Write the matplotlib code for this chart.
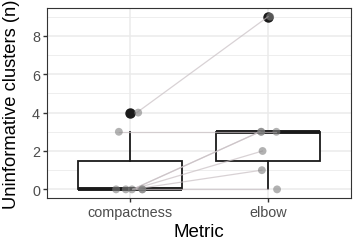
import matplotlib
matplotlib.use("Agg")
import matplotlib.pyplot as plt
import numpy as np

categories = ["compactness", "elbow"]
compactness = [4, 3, 0, 0, 0, 0, 0]
elbow = [9, 3, 3, 3, 2, 1, 0]
y_ticks = [0, 2, 4, 6, 8]

# horizontal jitter offsets (position/style, not data)
jit_c = [0.06, -0.08, 0.09, 0.09, -0.10, -0.03, 0.015]
jit_e = [0.015, 0.06, -0.05, -0.05, -0.04, -0.045, 0.065]
# line end jitter (lines were jittered separately)
ljit_c = [0.05, -0.08, 0.02, 0.02, 0.02, 0.02, 0.02]
ljit_e = [0.0, 0.06, -0.06, -0.06, -0.04, -0.045, 0.0]

plt.rcParams['font.family'] = ['Liberation Sans', 'DejaVu Sans']

fig = plt.figure(figsize=(3.61, 2.53), dpi=100)
ax = fig.add_axes([47/361, (253-199)/253, (351-47)/361, 190/253])

ax.set_xlim(0.4, 2.6)
ax.set_ylim(-0.45, 9.45)

# grid
for v in range(0, 10):
    ax.axhline(v, color='#ebebeb', lw=0.6 if v % 2 else 1.1, zorder=0)
for xv in [1, 2]:
    ax.axvline(xv, color='#ebebeb', lw=1.1, zorder=0)

bp = ax.boxplot([compactness, elbow], positions=[1, 2], widths=0.75,
                whis=1.5, patch_artist=True, manage_ticks=False,
                boxprops=dict(facecolor='white', edgecolor='#1a1a1a', lw=1.3),
                medianprops=dict(color='#1a1a1a', lw=2.8),
                whiskerprops=dict(color='#1a1a1a', lw=1.3),
                capprops=dict(linewidth=0),
                flierprops=dict(marker='o', markerfacecolor='#1a1a1a',
                                markeredgecolor='#1a1a1a', markersize=6.5))
for art in bp['boxes'] + bp['medians'] + bp['whiskers'] + bp['fliers']:
    art.set_zorder(1)

# paired lines (above boxes)
for a, b, ja, jb in zip(compactness, elbow, ljit_c, ljit_e):
    ax.plot([1 + ja, 2 + jb], [a, b], color='#c8bfc3', alpha=0.7, lw=0.9, zorder=2)

# jittered points
ax.scatter(np.array(jit_c) + 1, compactness, s=32, color='#808080', alpha=0.6,
           edgecolors='none', zorder=3)
ax.scatter(np.array(jit_e) + 2, elbow, s=32, color='#808080', alpha=0.6,
           edgecolors='none', zorder=3)

ax.set_xticks([1, 2])
ax.set_xticklabels(categories)
ax.set_yticks(y_ticks)
ax.tick_params(axis='both', labelsize=10.4, colors='#333333', labelcolor='#4d4d4d',
               length=3, width=1, pad=2)
for s in ax.spines.values():
    s.set_color('#333333')
    s.set_linewidth(0.8)

ax.set_xlabel("Metric", fontsize=13.5)
ax.set_ylabel("Uninformative clusters (n)", fontsize=13.2)
ax.xaxis.set_label_coords(0.5, -(233 - 199) / 190, transform=ax.transAxes)
ax.xaxis.label.set_va('center')
ax.yaxis.set_label_coords(-(47 - 12) / 304, 0.5, transform=ax.transAxes)
ax.yaxis.label.set_va('center')

fig.savefig("out.png", dpi=100)
